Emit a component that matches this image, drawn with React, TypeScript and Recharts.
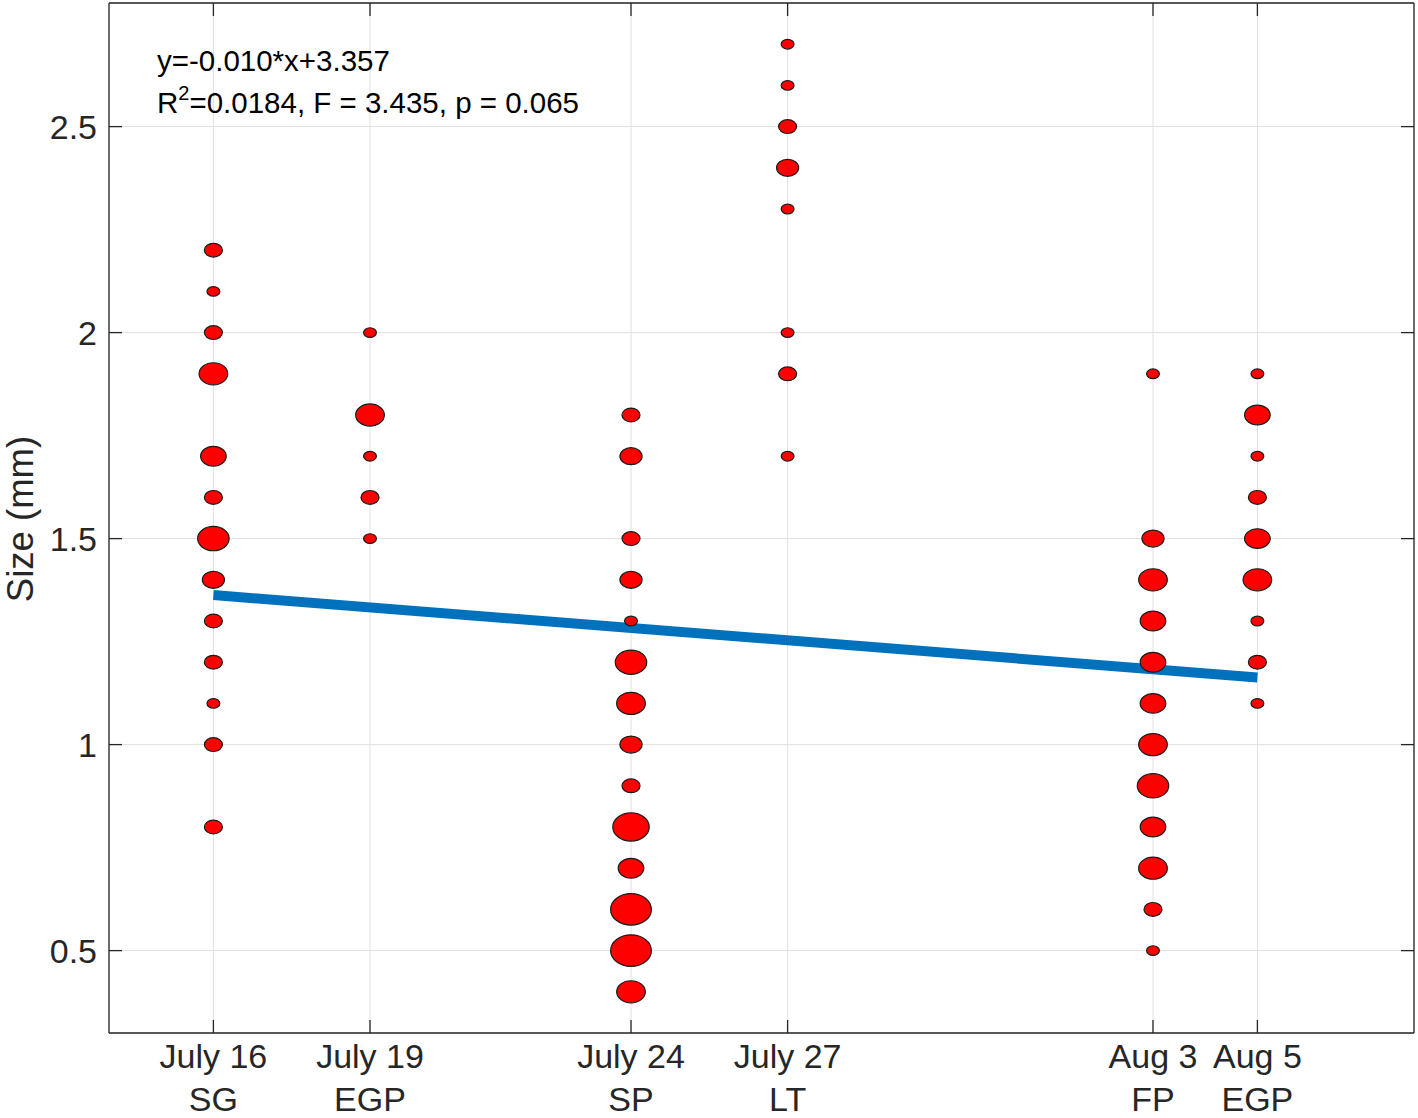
import { ScatterChart, Scatter, XAxis, YAxis, ZAxis, CartesianGrid } from "recharts";

const W = 1418;
const H = 1118;
const FONT = '"Liberation Sans", Arial, Helvetica, sans-serif';
const INK = "#262626";
const TICK_LEN = 13;

// plot frame (layout only)
const MARGIN = { top: 2, right: 3, bottom: 0, left: 9 };
const X_AXIS_H = 85;
const Y_AXIS_W = 100;
const PLOT_TOP = MARGIN.top + 1;
const PLOT_BOTTOM = H - MARGIN.bottom - X_AXIS_H;
const PLOT_LEFT = MARGIN.left + Y_AXIS_W;
const PLOT_RIGHT = W - MARGIN.right - 1;

// sampling dates (day of year) and their two-line labels
const sampleDays = [197, 200, 205, 208, 215, 217];
const dateLabels = ["July 16", "July 19", "July 24", "July 27", "Aug 3", "Aug 5"];
const siteLabels = ["SG", "EGP", "SP", "LT", "FP", "EGP"];

// size classes (mm) and number of individuals per class, per sample
const july16Size = [2.2, 2.1, 2.0, 1.9, 1.7, 1.6, 1.5, 1.4, 1.3, 1.2, 1.1, 1.0, 0.8];
const july16Count = [2, 1, 2, 5, 4, 2, 6, 3, 2, 2, 1, 2, 2];

const july19Size = [2.0, 1.8, 1.7, 1.6, 1.5];
const july19Count = [1, 5, 1, 2, 1];

const july24Size = [1.8, 1.7, 1.5, 1.4, 1.3, 1.2, 1.1, 1.0, 0.9, 0.8, 0.7, 0.6, 0.5, 0.4];
const july24Count = [2, 3, 2, 3, 1, 6, 5, 3, 2, 8, 4, 10, 10, 5];

const july27Size = [2.7, 2.6, 2.5, 2.4, 2.3, 2.0, 1.9, 1.7];
const july27Count = [1, 1, 2, 3, 1, 1, 2, 1];

const aug3Size = [1.9, 1.5, 1.4, 1.3, 1.2, 1.1, 1.0, 0.9, 0.8, 0.7, 0.6, 0.5];
const aug3Count = [1, 3, 5, 4, 4, 4, 5, 6, 4, 5, 2, 1];

const aug5Size = [1.9, 1.8, 1.7, 1.6, 1.5, 1.4, 1.3, 1.2, 1.1];
const aug5Count = [1, 4, 1, 2, 4, 5, 1, 2, 1];

// regression line end points
const fitDays = [197, 217];
const fitSize = [1.363, 1.163];

const yTicks = [0.5, 1, 1.5, 2, 2.5];

const samples = [
  { day: sampleDays[0], size: july16Size, count: july16Count },
  { day: sampleDays[1], size: july19Size, count: july19Count },
  { day: sampleDays[2], size: july24Size, count: july24Count },
  { day: sampleDays[3], size: july27Size, count: july27Count },
  { day: sampleDays[4], size: aug3Size, count: aug3Count },
  { day: sampleDays[5], size: aug5Size, count: aug5Count },
];

const points = samples.flatMap((s) =>
  s.size.map((v, i) => ({ x: s.day, y: v, n: s.count[i] }))
);
const fitLine = fitDays.map((d, i) => ({ x: d, y: fitSize[i], n: 1 }));

function Bubble(props: any) {
  const { cx, cy } = props;
  const r =
    typeof props.size === "number"
      ? Math.sqrt(props.size / Math.PI)
      : (props.width || 14) / 2;
  return (
    <ellipse
      cx={cx}
      cy={cy}
      rx={r - 0.6}
      ry={r * 0.78 - 0.6}
      fill="#ff0000"
      stroke="#1a1a1a"
      strokeWidth={1.2}
    />
  );
}

// bottom axis: inward tick mark + two-line label
function DateTick(props: any) {
  const { x, payload } = props;
  const y = PLOT_BOTTOM;
  const i = sampleDays.indexOf(payload.value);
  return (
    <g>
      <line x1={x} y1={y} x2={x} y2={y - TICK_LEN} stroke={INK} strokeWidth={1.3} />
      <text x={x} y={y + 35} textAnchor="middle" fill={INK} fontSize={34} fontFamily={FONT}>
        {dateLabels[i]}
      </text>
      <text x={x} y={y + 78} textAnchor="middle" fill={INK} fontSize={34} fontFamily={FONT}>
        {siteLabels[i]}
      </text>
    </g>
  );
}

function TopTick(props: any) {
  const { x } = props;
  return (
    <line x1={x} y1={PLOT_TOP} x2={x} y2={PLOT_TOP + TICK_LEN} stroke={INK} strokeWidth={1.3} />
  );
}

function SizeTick(props: any) {
  const { y, payload } = props;
  const x = PLOT_LEFT;
  return (
    <g>
      <line x1={x} y1={y} x2={x + TICK_LEN} y2={y} stroke={INK} strokeWidth={1.3} />
      <text x={x - 12} y={y} dy="0.36em" textAnchor="end" fill={INK} fontSize={34} fontFamily={FONT}>
        {String(payload.value)}
      </text>
    </g>
  );
}

function RightTick(props: any) {
  const { y } = props;
  return (
    <line x1={PLOT_RIGHT - TICK_LEN} y1={y} x2={PLOT_RIGHT} y2={y} stroke={INK} strokeWidth={1.3} />
  );
}

export default function App() {
  return (
    <div style={{ position: "absolute", left: 0, top: 0, width: W, height: H, background: "#fff" }}>
      <ScatterChart width={W} height={H} margin={MARGIN}>
        <CartesianGrid stroke="#e0e0e0" strokeWidth={1} />
        <XAxis
          type="number"
          dataKey="x"
          domain={[195, 220]}
          ticks={sampleDays}
          interval={0}
          height={X_AXIS_H}
          tick={<DateTick />}
          axisLine={{ stroke: INK, strokeWidth: 1.3 }}
          tickLine={false}
        />
        <XAxis
          xAxisId="top"
          orientation="top"
          type="number"
          dataKey="x"
          domain={[195, 220]}
          allowDataOverflow
          ticks={sampleDays}
          interval={0}
          height={1}
          tick={<TopTick />}
          axisLine={{ stroke: INK, strokeWidth: 1.3 }}
          tickLine={false}
        />
        <YAxis
          type="number"
          dataKey="y"
          domain={[0.3, 2.8]}
          ticks={yTicks}
          interval={0}
          width={Y_AXIS_W}
          tick={<SizeTick />}
          axisLine={{ stroke: INK, strokeWidth: 1.3 }}
          tickLine={false}
        />
        <YAxis
          yAxisId="right"
          orientation="right"
          type="number"
          dataKey="y"
          domain={[0.3, 2.8]}
          allowDataOverflow
          ticks={yTicks}
          interval={0}
          width={1}
          tick={<RightTick />}
          axisLine={{ stroke: INK, strokeWidth: 1.3 }}
          tickLine={false}
        />
        <ZAxis type="number" dataKey="n" domain={[1, 10]} range={[154, 1385]} />
        <Scatter
          data={fitLine}
          xAxisId="top"
          yAxisId="right"
          line={{ stroke: "#0072BD", strokeWidth: 10 }}
          lineType="joint"
          shape={() => <g />}
          isAnimationActive={false}
        />
        <Scatter data={points} shape={<Bubble />} isAnimationActive={false} />
      </ScatterChart>
      <svg
        width={W}
        height={H}
        style={{ position: "absolute", left: 0, top: 0, pointerEvents: "none" }}
      >
        <text x={157} y={70.5} fill="#000" fontSize={29.5} fontFamily={FONT}>
          y=-0.010*x+3.357
        </text>
        <text x={157} y={113} fill="#000" fontSize={29.5} fontFamily={FONT}>
          R
          <tspan fontSize={20} dy={-13}>2</tspan>
          <tspan dy={13}>=0.0184, F = 3.435, p = 0.065</tspan>
        </text>
        <text
          transform="translate(33 519) rotate(-90)"
          textAnchor="middle"
          fill={INK}
          fontSize={36.5}
          fontFamily={FONT}
        >
          Size (mm)
        </text>
      </svg>
    </div>
  );
}
